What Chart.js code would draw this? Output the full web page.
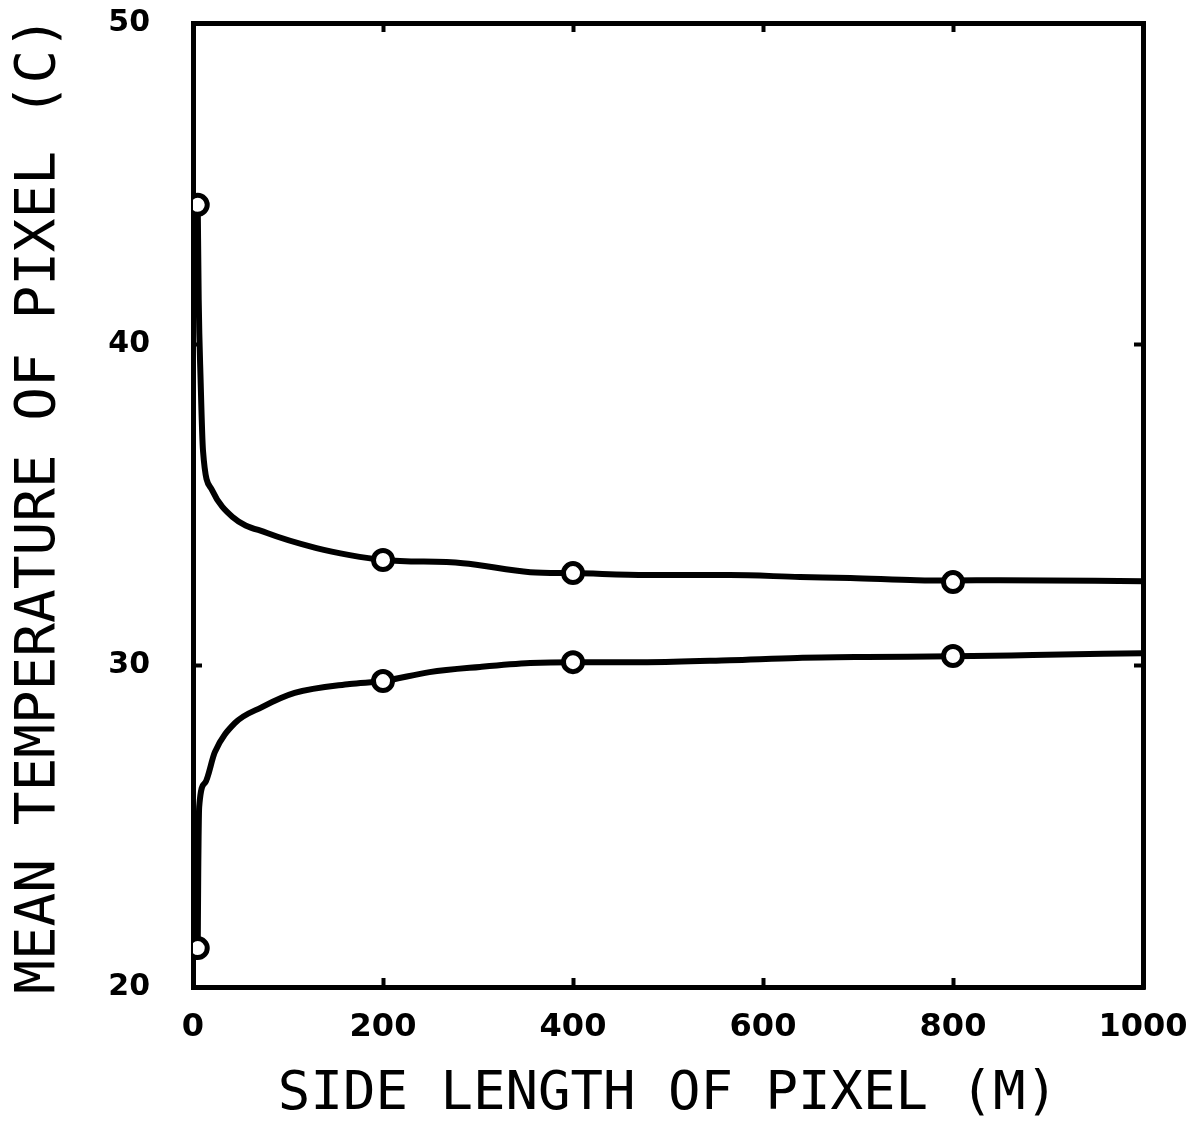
<!DOCTYPE html>
<html>
<head>
<meta charset="utf-8">
<script src="https://cdn.jsdelivr.net/npm/chart.js@4/dist/chart.umd.min.js"></script>
<style>
  html, body { margin: 0; padding: 0; background: #ffffff; }
  #wrap { width: 1202px; height: 1141px; position: relative; }
</style>
</head>
<body>
<div id="wrap"><canvas id="c" width="1202" height="1141"></canvas></div>
<script>
// ---- data ----
const xTitle = "SIDE LENGTH OF PIXEL (M)";
const yTitle = "MEAN TEMPERATURE OF PIXEL (C)";
const xTicks = [0, 200, 400, 600, 800, 1000];
const yTicks = [20, 30, 40, 50];

const upperX = [5, 6, 8, 10.5, 20, 42, 78, 130, 165, 200, 284, 355, 400, 478, 565, 639, 692, 762, 800, 849, 1000];
const upperY = [44.34, 41.4, 38.9, 36.7, 35.47, 34.62, 34.13, 33.66, 33.44, 33.29, 33.19, 32.91, 32.88, 32.82, 32.82, 32.76, 32.73, 32.66, 32.65, 32.66, 32.63];

const lowerX = [5, 5.5, 6.5, 12.6, 23, 44, 72.6, 107, 165, 200, 249, 302, 355, 400, 478, 565, 636, 709, 800, 884, 1000];
const lowerY = [21.21, 23.5, 25.6, 26.35, 27.31, 28.21, 28.71, 29.15, 29.43, 29.52, 29.8, 29.96, 30.08, 30.11, 30.11, 30.17, 30.24, 30.27, 30.29, 30.33, 30.39];

const markerX = [5, 200, 400, 800];
const upperMarkY = [44.34, 33.29, 32.88, 32.60];
const lowerMarkY = [21.21, 29.52, 30.11, 30.30];

// ---- build ----
const zip = (xs, ys) => xs.map((x, i) => ({ x: x, y: ys[i] }));

const lineStyle = {
  showLine: true,
  borderColor: '#000',
  borderWidth: 6,
  pointRadius: 0,
  cubicInterpolationMode: 'monotone',
  fill: false
};
const markStyle = {
  showLine: false,
  pointRadius: 9.5,
  pointBorderWidth: 5,
  pointBorderColor: '#000',
  pointBackgroundColor: '#fff',
  borderColor: '#000',
  backgroundColor: '#fff'
};

const tickFontX = { family: 'DejaVu Sans', weight: 'bold', size: 32 };
const tickFontY = { family: 'DejaVu Sans', weight: 'bold', size: 30 };
const plain = v => String(v);

function fixBox(dim, val) {
  return s => {
    s[dim] = val;
    s.paddingTop = 0; s.paddingBottom = 0; s.paddingLeft = 0; s.paddingRight = 0;
  };
}

const innerGrid = { drawOnChartArea: false, drawTicks: true, tickLength: -9, tickWidth: 4, tickColor: '#000' };
const frame = { display: true, color: '#000', width: 5 };

new Chart(document.getElementById('c'), {
  type: 'scatter',
  data: {
    datasets: [
      Object.assign({ label: 'upper', data: zip(upperX, upperY), order: 2 }, lineStyle),
      Object.assign({ label: 'lower', data: zip(lowerX, lowerY), order: 2 }, lineStyle),
      Object.assign({ label: 'upper pts', data: zip(markerX, upperMarkY), order: 1 }, markStyle),
      Object.assign({ label: 'lower pts', data: zip(markerX, lowerMarkY), order: 1 }, markStyle)
    ]
  },
  options: {
    responsive: false,
    animation: false,
    events: [],
    layout: { padding: 0 },
    plugins: { legend: { display: false }, tooltip: { enabled: false } },
    scales: {
      x: {
        type: 'linear', position: 'bottom', min: 0, max: 1000,
        afterBuildTicks: s => { s.ticks = xTicks.map(v => ({ value: v })); },
        afterFit: fixBox('height', 154),
        border: frame,
        grid: innerGrid,
        ticks: { color: '#000', font: tickFontX, padding: 30, maxRotation: 0, autoSkip: false, callback: plain },
        title: { display: true, text: xTitle, color: '#000',
                 font: { family: 'DejaVu Sans Mono', size: 54 }, padding: { top: 0, bottom: 14 } }
      },
      x2: {
        type: 'linear', position: 'top', min: 0, max: 1000,
        afterBuildTicks: s => { s.ticks = xTicks.map(v => ({ value: v })); },
        afterFit: fixBox('height', 23),
        border: frame,
        grid: innerGrid,
        ticks: { display: false }
      },
      y: {
        type: 'linear', position: 'left', min: 20, max: 50,
        afterBuildTicks: s => { s.ticks = yTicks.map(v => ({ value: v })); },
        afterFit: fixBox('width', 193),
        border: frame,
        grid: innerGrid,
        ticks: { color: '#000', font: tickFontY, padding: 52, autoSkip: false, callback: plain },
        title: { display: true, text: yTitle, color: '#000',
                 font: { family: 'DejaVu Sans Mono', size: 56 }, padding: { top: 6, bottom: 0 } }
      },
      y2: {
        type: 'linear', position: 'right', min: 20, max: 50,
        afterBuildTicks: s => { s.ticks = yTicks.map(v => ({ value: v })); },
        afterFit: fixBox('width', 59),
        border: frame,
        grid: innerGrid,
        ticks: { display: false }
      }
    }
  }
});
</script>
</body>
</html>
